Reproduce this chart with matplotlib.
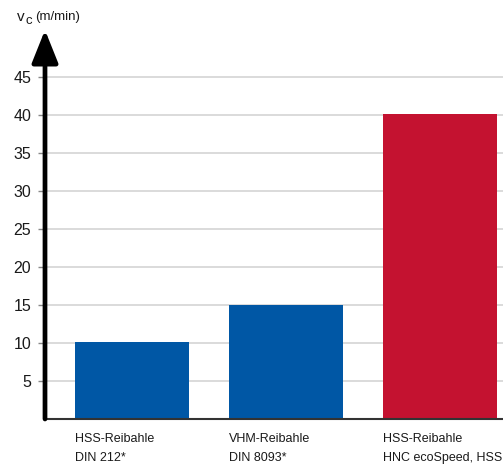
import matplotlib
matplotlib.use("Agg")
import matplotlib.pyplot as plt  # type: ignore

# data
labels = ["HSS-Reibahle\nDIN 212*", "VHM-Reibahle\nDIN 8093*", "HSS-Reibahle\nHNC ecoSpeed, HSS"]
speeds = [10.1, 15.05, 40.1]
colors = ["#0057a5", "#0057a5", "#c41230"]
yticks = [5, 10, 15, 20, 25, 30, 35, 40, 45]

plt.rcParams["font.family"] = ["Liberation Sans", "DejaVu Sans"]

W, H = 503, 468
fig = plt.figure(figsize=(W / 100, H / 100), dpi=100)
ax_left, ax_right, ax_bot, ax_top = 45, 503, 419, 30
ax = fig.add_axes([ax_left / W, (H - ax_bot) / H, (ax_right - ax_left) / W, (ax_bot - ax_top) / H])

ymax = (ax_bot - ax_top) / 7.6
ax.set_ylim(0, ymax)
ax.set_xlim(-0.565, 2.41)

x = list(range(len(speeds)))
ax.bar(x, speeds, width=0.74, color=colors, zorder=2)

ax.set_yticks(yticks)
ax.set_yticklabels([str(t) for t in yticks], fontsize=11.5, color="#1a1a1a")
ax.yaxis.grid(True, color="#d4d4d4", linewidth=1.2, zorder=0)
ax.tick_params(axis="y", length=5, width=1, color="#888888", pad=5)
ax.set_xticks([])

for s in ["top", "right", "left"]:
    ax.spines[s].set_visible(False)
ax.spines["bottom"].set_color("#333333")
ax.spines["bottom"].set_linewidth(1.5)

# thick y-axis with arrow head
ax.annotate("", xy=(-0.565, ymax), xytext=(-0.565, 0),
            xycoords="data", textcoords="data", annotation_clip=False,
            arrowprops=dict(arrowstyle="-|>,head_length=2.0,head_width=0.8",
                            color="black", lw=3.4, shrinkA=0, shrinkB=0))

# axis title: v with subscript c
fig.text(17 / W, 1 - 17 / H, "v", fontsize=11, va="center", ha="left", color="#1a1a1a")
fig.text(25 / W, 1 - 21 / H, "c", fontsize=9.5, va="center", ha="left", color="#1a1a1a")
fig.text(35 / W, 1 - 17 / H, "(m/min)", fontsize=9.5, va="center", ha="left", color="#1a1a1a")

for i, lab in enumerate(labels):
    ax.text(i - 0.37, -0.035, lab, transform=ax.get_xaxis_transform(),
            ha="left", va="top", fontsize=9, linespacing=1.85, color="#1a1a1a")

fig.savefig("out.png", dpi=100)
